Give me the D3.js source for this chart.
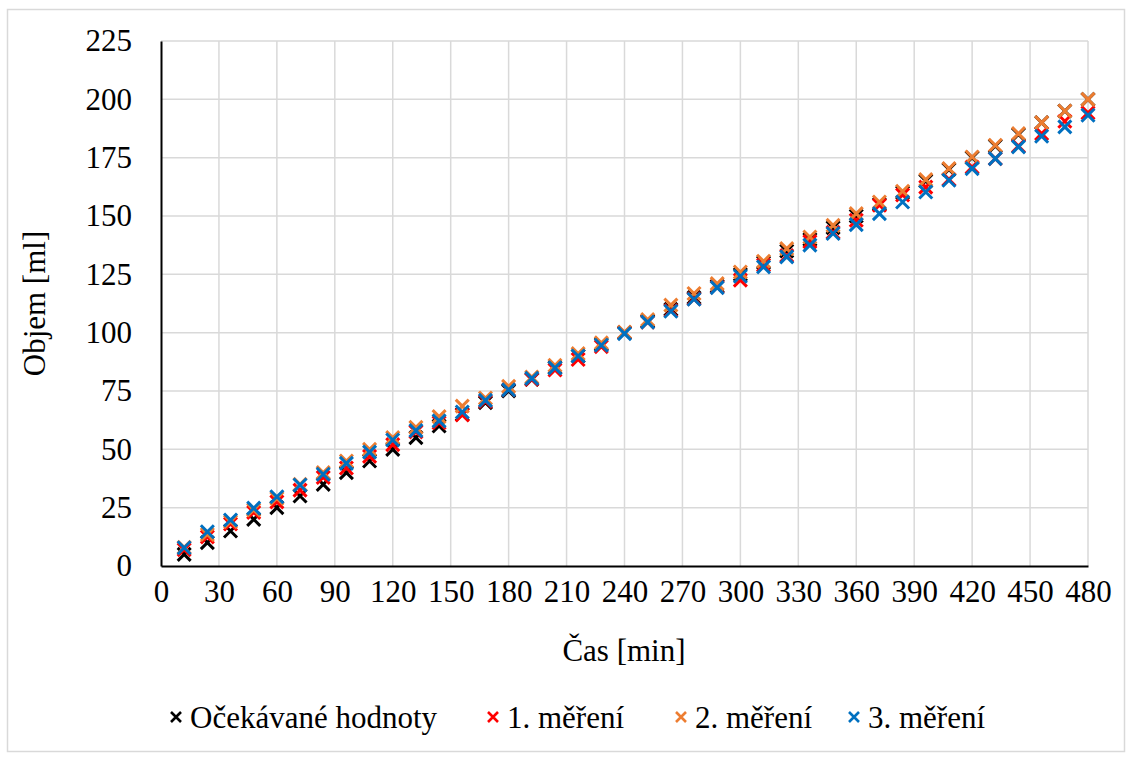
<!DOCTYPE html>
<html>
<head>
<meta charset="utf-8">
<script src="https://cdn.jsdelivr.net/npm/d3@7"></script>
<style>
  html, body { margin: 0; padding: 0; background: #fff; }
  svg { display: block; font-family: "Liberation Serif", "Times New Roman", serif; }
</style>
</head>
<body>
<svg id="chart" width="1132" height="760"></svg>
<script>
// Sampling times [min]
const times = [12, 24, 36, 48, 60, 72, 84, 96, 108, 120, 132, 144, 156, 168, 180, 192, 204, 216, 228, 240,
               252, 264, 276, 288, 300, 312, 324, 336, 348, 360, 372, 384, 396, 408, 420, 432, 444, 456, 468, 480];

// Expected volume [ml]
const expected = [5, 10, 15, 20, 25, 30, 35, 40, 45, 50, 55, 60, 65, 70, 75, 80, 85, 90, 95, 100,
                  105, 110, 115, 120, 125, 130, 135, 140, 145, 150, 155, 160, 165, 170, 175, 180, 185, 190, 195, 200];

// Measured volume [ml]
const measurement1 = [7, 12.5, 18, 23, 27.5, 32.5, 38, 42, 47, 52, 57.5, 61.4, 64.7, 70.5, 75.5, 80, 84, 88.5, 94, 100,
                      104.5, 109.5, 114.5, 119.5, 122.5, 129, 133, 139, 143, 148.2, 154.6, 159, 162.4, 165.7, 171, 174.6, 180, 185.3, 190.6, 194.2];
const measurement2 = [8, 13.5, 19, 24, 29, 35, 40, 45, 50, 55, 59.4, 64, 68.5, 72, 77, 81, 86, 91, 95.6, 100.3,
                      105.6, 111.8, 116.8, 121, 126, 130.6, 136, 141, 146, 151, 156, 160.6, 165.6, 170.3, 175.3, 180.3, 185.3, 190, 195, 200];
const measurement3 = [7.8, 14.7, 19.7, 24.8, 29.7, 34.7, 39.3, 44, 48.8, 54, 58, 62.2, 66, 71, 75.5, 80.4, 84.9, 90, 94.6, 99.6,
                      104.5, 109.2, 114.3, 119.3, 124.2, 128.2, 132.5, 137.5, 142.5, 146.3, 151, 156, 160.3, 165.3, 170.3, 174.6, 179.6, 184.2, 188.2, 193.2];

const seriesNames = ["Očekávané hodnoty", "1. měření", "2. měření", "3. měření"];
const seriesColors = ["#000000", "#ff0000", "#ed7d31", "#0070c0"];
const seriesValues = [expected, measurement1, measurement2, measurement3];

const xTicks = d3.range(0, 481, 30);
const yTicks = d3.range(0, 226, 25);

const svg = d3.select("#chart");
const W = 1132, H = 760;
const FS = 31;

// Chart area frame
svg.append("rect")
  .attr("x", 7.5).attr("y", 9.5)
  .attr("width", W - 15).attr("height", H - 18)
  .attr("fill", "#fff").attr("stroke", "#d9d9d9").attr("stroke-width", 1.5);

const plot = { left: 161, right: 1088, top: 41, bottom: 566 };

const x = d3.scaleLinear().domain([0, 480]).range([plot.left, plot.right]);
const y = d3.scaleLinear().domain([0, 225]).range([plot.bottom, plot.top]);

// Gridlines
const grid = svg.append("g");
grid.selectAll("line.v").data(xTicks.filter(d => d > 0)).enter().append("line")
  .attr("x1", d => x(d)).attr("x2", d => x(d))
  .attr("y1", plot.top).attr("y2", plot.bottom)
  .attr("stroke", "#d9d9d9").attr("stroke-width", 1.5);
grid.selectAll("line.h").data(yTicks.filter(d => d > 0)).enter().append("line")
  .attr("x1", plot.left).attr("x2", plot.right)
  .attr("y1", d => y(d)).attr("y2", d => y(d))
  .attr("stroke", "#d9d9d9").attr("stroke-width", 1.5);

// Axes
const xAxis = d3.axisBottom(x).tickValues(xTicks).tickSize(0).tickPadding(14);
const yAxis = d3.axisLeft(y).tickValues(yTicks).tickSize(0).tickPadding(29);

const gx = svg.append("g").attr("transform", `translate(0,${plot.bottom})`).call(xAxis);
const gy = svg.append("g").attr("transform", `translate(${plot.left},0)`).call(yAxis);

[gx, gy].forEach(g => {
  g.select(".domain").attr("stroke", "#000").attr("stroke-width", 2);
  g.selectAll("text").attr("font-family", "Liberation Serif, serif")
    .attr("font-size", FS).attr("fill", "#000");
});

// Axis titles
svg.append("text")
  .attr("x", 624).attr("y", 661)
  .attr("text-anchor", "middle").attr("font-size", FS).attr("fill", "#000")
  .text("Čas [min]");
svg.append("text")
  .attr("transform", `translate(45,${(plot.top + plot.bottom) / 2}) rotate(-90)`)
  .attr("text-anchor", "middle").attr("font-size", FS).attr("fill", "#000")
  .text("Objem [ml]");

// Cross marker path centred on (0,0)
function crossPath(r) {
  return `M${-r},${-r}L${r},${r}M${-r},${r}L${r},${-r}`;
}

// Data markers
seriesValues.forEach((vals, si) => {
  svg.append("g").selectAll("path").data(times.map((t, i) => [t, vals[i]])).enter().append("path")
    .attr("transform", d => `translate(${x(d[0])},${y(d[1])})`)
    .attr("d", crossPath(6.5))
    .attr("fill", "none")
    .attr("stroke", seriesColors[si])
    .attr("stroke-width", 3);
});

// Legend
const legendX = [176, 493, 681, 854];
const legend = svg.append("g");
seriesNames.forEach((name, i) => {
  const g = legend.append("g").attr("transform", `translate(${legendX[i]},717)`);
  g.append("path").attr("d", crossPath(5))
    .attr("fill", "none").attr("stroke", seriesColors[i]).attr("stroke-width", 2.6);
  g.append("text").attr("x", 14).attr("y", 10.5)
    .attr("font-size", FS).attr("fill", "#000").text(name);
});
</script>
</body>
</html>
